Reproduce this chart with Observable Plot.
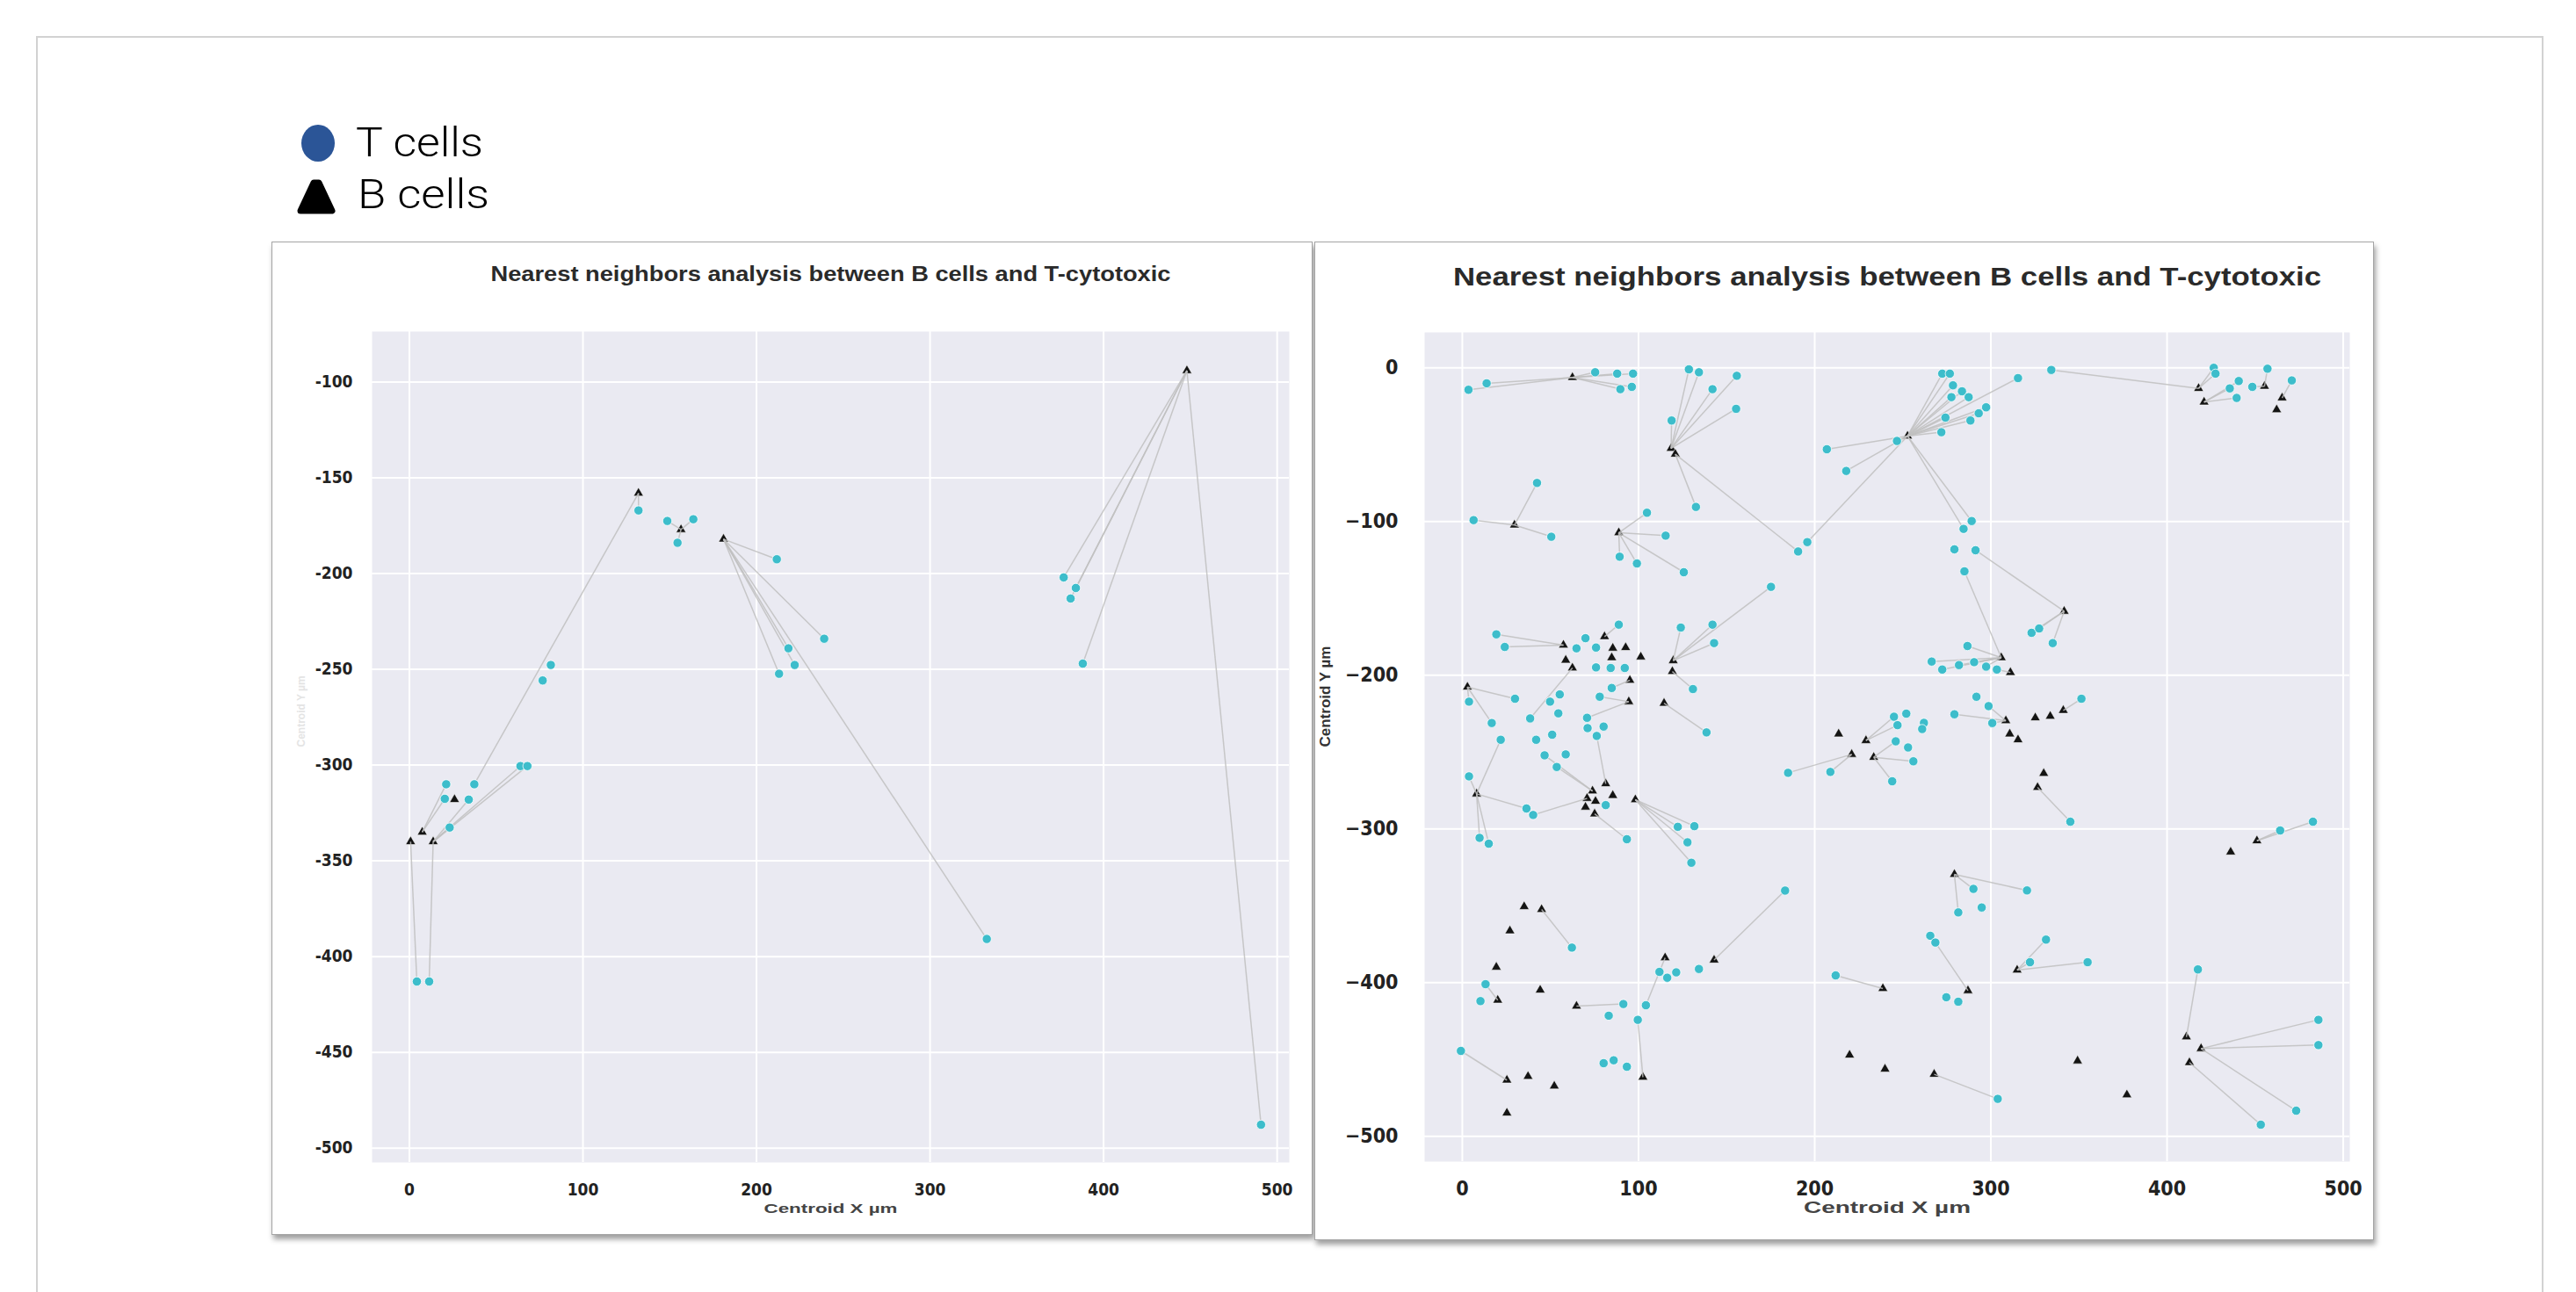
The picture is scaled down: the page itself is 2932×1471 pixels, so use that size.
<!DOCTYPE html>
<html>
<head>
<meta charset="utf-8">
<script src="https://cdn.jsdelivr.net/npm/d3@7"></script>
<script src="https://cdn.jsdelivr.net/npm/@observablehq/plot@0.6"></script>
<style>
html, body { margin: 0; padding: 0; background: #fff; }
body { width: 2932px; height: 1471px; position: relative; overflow: hidden; font-family: "Liberation Sans", Arial, sans-serif; }
#outer { position: absolute; left: 41px; top: 41px; width: 2854px; height: 1520px; border: 2px solid #d2d2d2; box-sizing: border-box; }
.panel { position: absolute; background: #fff; border: 1.5px solid #a5a5a5; box-sizing: border-box; box-shadow: 2px 5px 6px rgba(0,0,0,0.38); }
</style>
</head>
<body>
<div id="outer"></div>
<div class="panel" style="left:309px;top:275px;width:1185px;height:1131px;"></div>
<div class="panel" style="left:1496px;top:275px;width:1206px;height:1137px;"></div>
<script>
// ---------- legend ----------
const legendLabels = ["T cells", "B cells"];

// ---------- shared ----------
const chartTitle = "Nearest neighbors analysis between B cells and T-cytotoxic";
const xAxisLabel = "Centroid X µm";
const yAxisLabel = "Centroid Y µm";
const xTickValues = [0, 100, 200, 300, 400, 500];

// ---------- left panel ----------
const leftYTicks = [-100, -150, -200, -250, -300, -350, -400, -450, -500];
const leftBX = [132, 156.5, 181, 448, 0.7, 7.4, 13.7, 26];
const leftBY = [-158, -177, -182, -94, -340, -335, -340, -318];
const leftTX = [132, 148.6, 163.6, 154.5, 211.7, 239, 218.4, 222, 213, 332.7, 81.5, 76.8, 37.4,
                377, 384, 381, 388, 490.7, 64, 68, 21.2, 20.4, 34.2, 23.2, 4.3, 11.4];
const leftTY = [-167, -172.5, -171.6, -183.9, -192.5, -234, -239, -247.7, -252.3, -390.8, -247.7, -255.8, -310,
                -202, -207.5, -213, -247, -487.8, -300.5, -300.5, -310, -317.6, -318, -332.6, -413, -413];
// index of the linked B cell (-1 = no drawn link)
const leftTNear = [0, 1, 1, 1, 2, 2, 2, 2, 2, 2, -1, -1, 0,
                   3, 3, 3, 3, 3, 6, 6, 5, 5, 6, 6, 4, 6];

// ---------- right panel ----------
const rightYTicks = [0, -100, -200, -300, -400, -500];
const rightBX = [62.5,118.5,120.9,29.6,88.8,252.7,341.6,417.9,421,455.3,
                 465.3,462.2,57.4,58.7,62.5,80.7,85.4,92.7,84.8,101.3,
                 95.1,94.5,114.5,119.7,119.2,2.9,8.1,81.4,73.9,85.4,
                 70.8,75.6,69.9,75.1,98.2,213.6,229.1,221,233.5,305.9,
                 311.1,308.5,310.7,315.4,325.2,333.7,341.1,330,326.5,436.1,
                 451,279.3,35.1,45,27,19.3,20.1,44.2,64.8,25.3,
                 37.3,52.2,25.3,102.5,115.1,142.9,238.7,219.8,239.9,287,
                 314.9,411,419.3,412.7,267.8,349.2,377.2];
const rightBY = [-6.3,-52.4,-56.2,-102.3,-107.3,-44.4,-158.4,-13.4,-22.3,-12,
                 -19.6,-27.3,-180.4,-190.2,-195.3,-174.9,-182.4,-182,-188.6,-188.1,
                 -203.3,-217.2,-218.2,-190.5,-197.6,-207.7,-277.2,-270.6,-275.3,-278.2,
                 -280.1,-282,-285.8,-290.2,-281,-238.2,-242.5,-251.5,-253.4,-188.6,
                 -198.2,-229.6,-238.2,-242,-227.7,-226.7,-222.9,-263.9,-273,-315,
                 -307.7,-329.6,-350.5,-352.4,-366.3,-389.9,-411.4,-404.8,-415.3,-463.4,
                 -461,-467.3,-484.8,-461.5,-383.8,-385.3,-403.8,-447.1,-456.2,-405.2,
                 -391.8,-435.3,-442.9,-452,-459.6,-450.9,-473];
const rightTX = [
  3.5,13.8,75.4,87.9,96.9,89.7,96.2,128.6,134.3,155.8,142,155.4,118.8,132.6,190.6,
  42.4,6.4,50.5,104.8,115.4,89.3,99.1,125.7,206.9,217.9,195.8,175.2,
  272.4,276.7,278.5,283.6,287.4,277.6,297.3,293.1,288.4,274.2,271.9,246.7,315.4,334.3,
  284.5,289.1,285,291.3,279.3,426.5,427.5,440.7,435.6,439.5,448.4,457,470.8,
  323.1,327.4,335.1,286.7,266.4,272.4,281.9,290.5,297.3,303.4,291.8,298.7,279.3,300.8,
  351.4,345.1,464.2,482.8,
  245,252,247,262,261,246,253,256,244,184.9,208.9,
  19.3,24.1,64.8,69.9,75.9,88.8,75.9,84.2,92.2,84.8,78,124,142,142.9,130.9,138.6,
  3.8,29.9,16.7,21.8,3.8,36.4,40.2,9.8,15,55.3,49.8,54.5,38.5,51,41.9,46.7,58.7,53.6,
  70.8,71.1,80.2,76.3,81.4,93.4,122.3,131.7,127.8,130,183.2,
  62.2,13.2,10.3,91.4,83.1,104.2,99.6,-0.8,80.2,85.9,93.4,111.9,116.3,121.4,134.3,211.9,
  290.1,320.5,281.5,294.8,265.6,268.5,274.7,281.5,322.2,331.3,354.9,417.5,485.9,485.9,473.3,453.2,303.9];
const rightTY = [
  -14.3,-10.1,-2.9,-3.8,-3.8,-13.9,-12.4,-1,-2.9,-5.2,-13.9,-26.7,-34.3,-90.5,-119.5,
  -74.9,-99.1,-109.9,-94.3,-109.2,-122.9,-127.3,-133,-53,-67.1,-113.4,-142.5,
  -3.8,-3.8,-11.4,-15.3,-19.1,-19.1,-25.7,-29.6,-34.3,-32.4,-41.9,-47.6,-6.7,-1.4,
  -104.8,-99.7,-132.4,-118.7,-118.1,0,-3.8,-8.6,-13.4,-19.6,-12.4,-0.6,-8.2,
  -172.4,-169.6,-179.1,-181,-191.1,-196.3,-193.4,-191.5,-194.4,-196.3,-214,-220.1,-225.4,-231.1,
  -215.3,-295.3,-301,-295.3,
  -227,-225,-232.5,-231,-235,-243,-247,-256,-269,-263.5,-262.9,
  -173.4,-181.6,-182.5,-175.9,-182,-167.1,-194.9,-195.3,-195.3,-208.3,-214,-169,-167.1,-179.1,-209,-237.2,
  -217.2,-215.3,-231.1,-242,-265.8,-286.7,-290.9,-305.8,-309.6,-212.5,-217.2,-224.8,-228.1,-238.7,-242,-252.1,-251.5,-259.7,
  -227.7,-234.4,-233.4,-239.5,-284.5,-306.7,-298.6,-298.2,-308.7,-322,-340.1,
  -377.2,-401,-412,-413.9,-421.5,-414.7,-424.2,-444.4,-452.4,-450.5,-454.7,-393,-396.8,-393.3,-391.1,-395.3,
  -339,-340,-354.3,-351.1,-369.5,-373.9,-409.5,-412.4,-386.7,-372,-386.7,-391.4,-424.2,-440.6,-483.3,-492.4,-475.6];
const rightTNear = [
  0,0,0,0,0,0,0,1,1,1,1,1,1,2,2,
  3,3,3,4,4,4,4,4,5,5,5,23,
  5,5,5,5,5,5,5,5,5,5,5,5,5,7,
  5,5,39,6,-1,7,7,8,8,8,9,9,10,
  6,6,6,39,39,39,39,39,39,40,-1,41,41,41,
  46,48,50,50,
  36,-1,36,-1,-1,38,-1,38,38,37,37,
  12,12,-1,-1,-1,15,-1,-1,-1,20,21,23,23,23,24,22,
  25,25,25,26,26,26,30,26,26,-1,-1,-1,14,-1,-1,28,-1,28,
  21,-1,-1,27,-1,33,34,34,34,34,65,
  53,56,-1,58,-1,64,63,59,-1,-1,-1,-1,-1,-1,-1,66,
  51,51,51,-1,-1,69,-1,-1,70,70,70,71,72,72,72,73,74];

const tickFont = '"DejaVu Sans Condensed", "Liberation Sans Narrow", "Liberation Sans", sans-serif';

function panel(o) {
  const T = o.tx.map((x, i) => ({x, y: o.ty[i], near: o.tn[i]}));
  const B = o.bx.map((x, i) => ({x, y: o.by[i]}));
  const L = T.filter(d => d.near >= 0).map(d => ({x1: B[d.near].x, y1: B[d.near].y, x2: d.x, y2: d.y}));
  const svg = Plot.plot({
    width: o.w, height: o.h,
    marginLeft: o.ml, marginRight: o.mr, marginTop: o.mt, marginBottom: o.mb,
    x: {domain: o.xd, label: null},
    y: {domain: o.yd, label: null},
    style: {background: "transparent", fontFamily: tickFont, color: "#222", overflow: "visible", fontWeight: "bold"},
    marks: [
      Plot.frame({fill: "#eaeaf2", stroke: null}),
      Plot.gridX({ticks: xTickValues, stroke: "#fff", strokeOpacity: 1, strokeWidth: 2}),
      Plot.gridY({ticks: o.yTicks, stroke: "#fff", strokeOpacity: 1, strokeWidth: 2}),
      Plot.axisX({ticks: xTickValues, tickSize: 0, tickPadding: o.xPad, fontSize: o.fs, label: null, tickFormat: o.fmt}),
      Plot.axisY({ticks: o.yTicks, tickSize: 0, tickPadding: o.yPad, fontSize: o.fs, label: null, tickFormat: o.fmt}),
      Plot.dot(B, {x: "x", y: "y", symbol: "triangle", r: 4.2, fill: "#141414", stroke: "#fff", strokeWidth: 0.6}),
      Plot.link(L, {x1: "x1", y1: "y1", x2: "x2", y2: "y2", stroke: "#bfbfbf", strokeWidth: 1.5, strokeOpacity: 0.85}),
      Plot.dot(T, {x: "x", y: "y", r: 5.2, fill: "#3dbdcb", stroke: "#fff", strokeWidth: 0.8}),
      Plot.text([chartTitle], {frameAnchor: "top", dy: o.titleDy, fontSize: o.titleFs, fill: "#2a2a2a",
        fontFamily: '"Liberation Sans", Arial, sans-serif', text: d => d, className: "ttl"}),
      Plot.text([xAxisLabel], {frameAnchor: "bottom", dy: o.xlDy, fontSize: o.xlFs, fill: "#444", text: d => d,
        fontFamily: '"Liberation Sans", Arial, sans-serif', className: "xl"}),
      Plot.text([yAxisLabel], {frameAnchor: "left", dx: o.ylDx, rotate: -90, fontSize: o.ylFs, fill: o.ylFill, text: d => d,
        fontFamily: '"Liberation Sans", Arial, sans-serif'})
    ]
  });
  svg.style.position = "absolute";
  svg.style.left = o.left + "px";
  svg.style.top = o.top + "px";
  svg.querySelectorAll(".ttl text").forEach(t => { t.setAttribute("textLength", o.titleW); t.setAttribute("lengthAdjust", "spacingAndGlyphs"); });
  svg.querySelectorAll(".xl text").forEach(t => { t.setAttribute("textLength", o.xlW); t.setAttribute("lengthAdjust", "spacingAndGlyphs"); });
  document.body.appendChild(svg);
}

panel({
  tx: leftTX, ty: leftTY, tn: leftTNear, bx: leftBX, by: leftBY,
  left: 309, top: 275, w: 1185, h: 1131, ml: 114, mr: 27, mt: 102, mb: 83,
  xd: [-21.5, 507], yd: [-507.5, -73.6], yTicks: leftYTicks,
  fs: 19, xPad: 24, yPad: 22, fmt: d => String(d),
  titleDy: -74, titleFs: 23, titleW: 774,
  xlDy: 57, xlFs: 15, xlW: 152,
  ylDx: -80, ylFs: 12, ylFill: "#e4e4e4"
});

panel({
  tx: rightTX, ty: rightTY, tn: rightTNear, bx: rightBX, by: rightBY,
  left: 1496, top: 275, w: 1206, h: 1137, ml: 125, mr: 28, mt: 103, mb: 90,
  xd: [-21.4, 503.7], yd: [-516.4, 23], yTicks: rightYTicks,
  fs: 23, xPad: 22, yPad: 30, fmt: d => d < 0 ? "\u2212" + (-d) : String(d),
  titleDy: -74, titleFs: 29, titleW: 988,
  xlDy: 58, xlFs: 18, xlW: 190,
  ylDx: -113, ylFs: 17, ylFill: "#333"
});

// ---------- legend (above the charts) ----------
const ns = "http://www.w3.org/2000/svg";
const leg = document.createElementNS(ns, "svg");
leg.setAttribute("width", 700); leg.setAttribute("height", 260);
leg.style.position = "absolute"; leg.style.left = "0px"; leg.style.top = "0px";
leg.innerHTML =
  `<ellipse cx="362" cy="163" rx="19" ry="21" fill="#2b5597"/>` +
  `<path d="M357,208 L363,208 L378,240 L342,240 Z" fill="#000" stroke="#000" stroke-width="7" stroke-linejoin="round"/>` +
  `<text x="405" y="178" font-family="Roboto, 'Liberation Sans', sans-serif" font-weight="300" font-size="46" textLength="145" lengthAdjust="spacingAndGlyphs" fill="#000">${legendLabels[0]}</text>` +
  `<text x="407" y="237" font-family="Roboto, 'Liberation Sans', sans-serif" font-weight="300" font-size="46" textLength="150" lengthAdjust="spacingAndGlyphs" fill="#000">${legendLabels[1]}</text>`;
document.body.appendChild(leg);
</script>
</body>
</html>
